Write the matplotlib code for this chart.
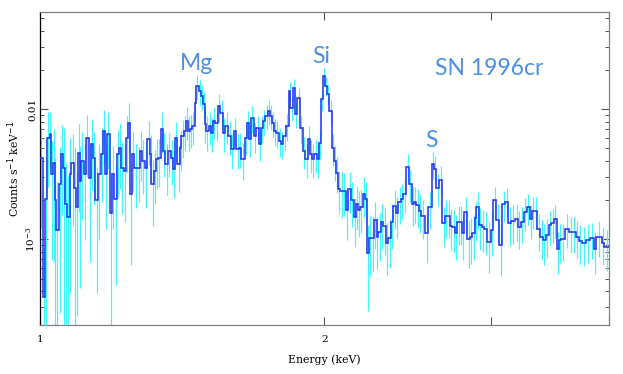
import numpy as np
import matplotlib
matplotlib.use("Agg")
import matplotlib.pyplot as plt
from matplotlib.ticker import FixedLocator, FixedFormatter, LogLocator, NullFormatter

## Spectrum of SN 1996cr, bin edges in keV, rates in 1e-3 counts/s/keV
edges = [1.000, 1.0073, 1.0130, 1.0180, 1.0238, 1.0279, 1.0321, 1.0363, 1.0405, 1.0464,
         1.0515, 1.0575, 1.0618, 1.0687, 1.0748, 1.0791, 1.0862, 1.0923, 1.0968, 1.1012,
         1.1057, 1.1120, 1.1192, 1.1256, 1.1311, 1.1375, 1.1440, 1.1514, 1.1589, 1.1655,
         1.1702, 1.1769, 1.1846, 1.1913, 1.1990, 1.2059, 1.2117, 1.2186, 1.2266, 1.2335,
         1.2385, 1.2456, 1.2517, 1.2588, 1.2690,
         1.2752, 1.2825, 1.2908, 1.2991, 1.3066, 1.3119, 1.3193, 1.3258, 1.3334, 1.3421,
         1.3496, 1.3573, 1.3661, 1.3751, 1.3828, 1.3907, 1.3975, 1.4054, 1.4112, 1.4204,
         1.4285, 1.4342, 1.4401, 1.4482, 1.4576, 1.4636, 1.4719, 1.4791, 1.4875, 1.4935,
         1.4997, 1.5080, 1.5154, 1.5241, 1.5328, 1.5427, 1.5515, 1.5616, 1.5706, 1.5806,
         1.5936,
         1.6026, 1.6130, 1.6235, 1.6328, 1.6461, 1.6554, 1.6635, 1.6730, 1.6824, 1.6934,
         1.7044, 1.7141, 1.7238, 1.7322, 1.7421, 1.7521, 1.7605, 1.7706, 1.7778, 1.7893,
         1.7995, 1.8098, 1.8216, 1.8333, 1.8409, 1.8514, 1.8618, 1.8709, 1.8846, 1.8969,
         1.9093, 1.9200, 1.9310, 1.9405, 1.9514, 1.9625, 1.9722, 1.9832, 1.9946, 2.0044,
         2.0124, 2.0239,
         2.0354, 2.0486, 2.0570, 2.0654, 2.0787, 2.0906, 2.1076, 2.1197, 2.1335, 2.1472,
         2.1595, 2.1718, 2.1825, 2.1947, 2.2073, 2.2181, 2.2306, 2.2433, 2.2580, 2.2709,
         2.2800, 2.2948, 2.3080, 2.3230, 2.3360, 2.3513, 2.3647, 2.3801, 2.3935, 2.4091,
         2.4229, 2.4387, 2.4585, 2.4723, 2.4844, 2.4986, 2.5189, 2.5331, 2.5558,
         2.5767, 2.5976, 2.6122, 2.6272, 2.6443, 2.6658, 2.6832, 2.6985, 2.7137, 2.7314,
         2.7492, 2.7649, 2.7807, 2.7941, 2.8101, 2.8329, 2.8491, 2.8674, 2.8838, 2.8956,
         2.9142, 2.9332, 2.9500, 2.9740, 2.9982, 3.0153, 3.0398, 3.0596, 3.0845, 3.1043,
         3.1299, 3.1528, 3.1808, 3.2068,
         3.2252, 3.2511, 3.2723, 3.2989, 3.3178, 3.3367, 3.3585, 3.3801, 3.4076, 3.4271,
         3.4550, 3.4747, 3.4974, 3.5202, 3.5400, 3.5602, 3.5978, 3.6271, 3.6570, 3.6867,
         3.7167, 3.7469, 3.7865, 3.8234, 3.8610, 3.8796, 3.9335, 3.9560, 4.0]

rate = [4.23, 0.36, 2.05, 6.01, 6.45, 3.19, 3.87, 1.99, 1.17, 2.67,
        4.53, 3.55, 1.88, 1.47, 3.19, 3.87, 2.49, 1.76, 4.61, 2.82,
        4.01, 3.19, 6.01, 2.97, 5.41, 4.23, 1.99, 3.19, 4.53, 6.79,
        3.19, 6.45, 1.58, 3.19, 2.05, 4.53, 5.04, 3.55, 3.36, 6.01,
        7.82, 2.24, 4.53, 3.55,
        3.55, 4.78, 4.01, 3.55, 5.91, 4.53, 2.67, 3.36, 4.15, 4.23,
        7.03, 4.78, 3.80, 4.78, 4.23, 3.48, 6.01, 3.80, 5.04, 6.22,
        6.79, 8.10, 6.79, 7.03, 7.41, 11.1, 15.0, 13.7, 12.6, 10.9,
        7.68, 6.79, 7.41, 6.56, 8.10, 7.82, 10.5, 9.32, 6.56, 7.41,
        6.22,
        4.95, 6.79, 4.95, 5.04, 4.15, 6.01, 7.82, 5.91, 8.54, 6.22,
        7.16, 5.41, 7.16, 8.10, 8.84, 9.66, 8.84, 7.82, 6.79, 6.56,
        5.70, 5.41, 6.22, 7.41, 13.7, 10.2, 14.5, 9.16, 12.1, 7.16,
        4.78, 4.15, 5.91, 4.53, 4.15, 4.53, 4.15, 5.50, 11.9, 17.9,
        15.0, 13.0,
        9.66, 5.04, 4.01, 3.25, 2.45, 2.36, 2.36, 1.69, 2.45, 1.99,
        1.47, 1.88, 1.69, 1.76, 2.24, 2.05, 0.78, 1.02, 1.02, 1.40,
        1.04, 1.13, 1.35, 1.26, 0.93, 1.02, 1.35, 1.79, 1.58, 1.92,
        2.05, 2.24, 3.61, 2.67, 1.88, 1.92, 1.82, 1.66, 1.50,
        1.11, 1.76, 3.80, 3.48, 2.49, 2.87, 1.33, 1.52, 1.52, 1.26,
        1.24, 1.11, 1.35, 1.35, 1.11, 1.61, 1.00, 1.05, 1.11, 1.45,
        1.76, 1.28, 1.24, 1.19, 0.95, 1.17, 1.99, 1.40, 0.90, 1.85,
        1.95, 1.33, 1.37, 1.42,
        1.24, 1.35, 1.61, 1.76, 1.42, 1.66, 1.66, 1.19, 1.05, 0.98,
        1.07, 1.28, 1.33, 1.42, 0.84, 0.98, 1.00, 1.21, 1.13, 1.13,
        1.05, 0.97, 0.93, 0.98, 1.02, 0.84, 1.05, 0.93, 0.87]

sigma = [3.0, 0.5, 2.2, 3.5, 3.0, 2.5, 3.2, 2.2, 1.6, 2.4,
         3.0, 3.6, 2.0, 1.6, 2.8, 2.6, 2.6, 1.5, 3.0, 2.4,
         2.6, 2.2, 3.0, 2.3, 3.0, 2.4, 1.6, 2.2, 2.6, 3.0,
         2.0, 3.0, 1.7, 2.0, 1.6, 2.4, 2.6, 2.0, 2.0, 2.8,
         3.2, 1.6, 2.2, 1.8,
         1.6, 2.0, 1.8, 1.8, 2.2, 1.8, 1.4, 1.5, 1.7, 1.7,
         2.4, 1.8, 1.6, 1.8, 1.6, 1.4, 2.0, 1.5, 1.7, 2.0,
         2.0, 2.3, 2.0, 2.0, 2.1, 2.8, 3.2, 3.0, 2.8, 2.6,
         2.2, 2.0, 2.1, 1.9, 2.2, 2.1, 2.5, 2.3, 1.9, 2.0,
         1.8,
         1.5, 1.8, 1.5, 1.5, 1.3, 1.6, 1.9, 1.6, 2.0, 1.6,
         1.7, 1.4, 1.7, 1.8, 1.9, 2.0, 1.9, 1.7, 1.6, 1.5,
         1.4, 1.3, 1.5, 1.7, 2.4, 2.1, 2.5, 2.0, 2.3, 1.7,
         1.3, 1.2, 1.5, 1.3, 1.2, 1.3, 1.2, 1.4, 2.2, 2.8,
         2.5, 2.3,
         2.0, 1.4, 1.2, 1.0, 0.9, 0.9, 0.85, 0.7, 0.85, 0.75,
         0.6, 0.7, 0.65, 0.65, 0.75, 0.7, 0.5, 0.5, 0.45, 0.55,
         0.45, 0.45, 0.5, 0.5, 0.4, 0.42, 0.5, 0.6, 0.55, 0.6,
         0.62, 0.65, 0.9, 0.75, 0.62, 0.62, 0.6, 0.55, 0.5,
         0.45, 0.55, 0.9, 0.85, 0.7, 0.75, 0.45, 0.5, 0.5, 0.45,
         0.45, 0.42, 0.45, 0.45, 0.42, 0.5, 0.4, 0.4, 0.42, 0.48,
         0.55, 0.45, 0.44, 0.43, 0.4, 0.42, 0.55, 0.46, 0.38, 0.5,
         0.52, 0.44, 0.45, 0.45,
         0.4, 0.42, 0.45, 0.48, 0.42, 0.45, 0.45, 0.38, 0.35, 0.34,
         0.35, 0.38, 0.39, 0.4, 0.3, 0.32, 0.32, 0.35, 0.34, 0.34,
         0.33, 0.32, 0.31, 0.32, 0.32, 0.3, 0.32, 0.3, 0.3]

lines = ["Mg", "Si", "S", "SN 1996cr"]
line_x = [1.465, 1.986, 2.594, 2.988]
line_y = [0.0224, 0.0254, 0.0057, 0.0206]

e = np.array(edges)
r = np.array(rate) * 1e-3
s = np.array(sigma) * 1e-3
ec = np.sqrt(e[:-1] * e[1:])
lo = np.maximum(r - s, 1e-5)
hi = r + s

fig = plt.figure(figsize=(6.23, 3.74), dpi=100)
ax = fig.add_axes([0.0642, 0.131, 0.9133, 0.837])

ax.vlines(ec, lo, hi, color="#3ff6ff", lw=0.85, zorder=2)
ax.stairs(r, e, baseline=None, color="#2436f0", lw=1.15, zorder=3)

ax.set_xscale("log")
ax.set_yscale("log")
ax.set_xlim(1.0, 4.0)
ax.set_ylim(2.2e-4, 0.0555)

tfont = {"family": "DejaVu Serif", "size": 7.8}
ax.xaxis.set_major_locator(FixedLocator([1, 2, 3, 4]))
ax.xaxis.set_major_formatter(FixedFormatter(["1", "2", "", ""]))
ax.xaxis.set_minor_locator(FixedLocator([]))
ax.yaxis.set_major_locator(FixedLocator([1e-3, 1e-2]))
ax.yaxis.set_major_formatter(FixedFormatter(["$\\mathregular{10^{-3}}$", "0.01"]))
ax.yaxis.set_minor_locator(LogLocator(base=10, subs=np.arange(2, 10)))
ax.yaxis.set_minor_formatter(NullFormatter())
for lab in ax.get_xticklabels():
    lab.set_fontfamily("DejaVu Serif")
    lab.set_fontsize(7.5)
for lab in ax.get_yticklabels():
    lab.set_fontfamily("DejaVu Serif")
    lab.set_fontsize(7.5)
    lab.set_rotation(90)
    lab.set_va("center")

ax.tick_params(which="both", direction="in", top=True, right=True, colors="#555555")
ax.tick_params(which="major", length=6, width=0.8)
ax.tick_params(which="minor", length=3, width=0.7)
ax.tick_params(axis="x", pad=7)
ax.tick_params(axis="y", pad=2)
ax.tick_params(axis="both", labelcolor="black")

for sp in ax.spines.values():
    sp.set_color("#808080")
    sp.set_linewidth(0.9)
ax.spines["left"].set_color("black")

ax.set_xlabel("Energy (keV)", fontdict=tfont, labelpad=8)
ax.set_ylabel("Counts s$^{-1}$ keV$^{-1}$", fontdict=tfont, labelpad=2)

for t, x, y in zip(lines, line_x, line_y):
    ax.text(x, y, t, color="#4d8fe6", fontsize=16.5, family="Lato",
            ha="center", va="center", zorder=4)

fig.savefig("out.png", dpi=100)
